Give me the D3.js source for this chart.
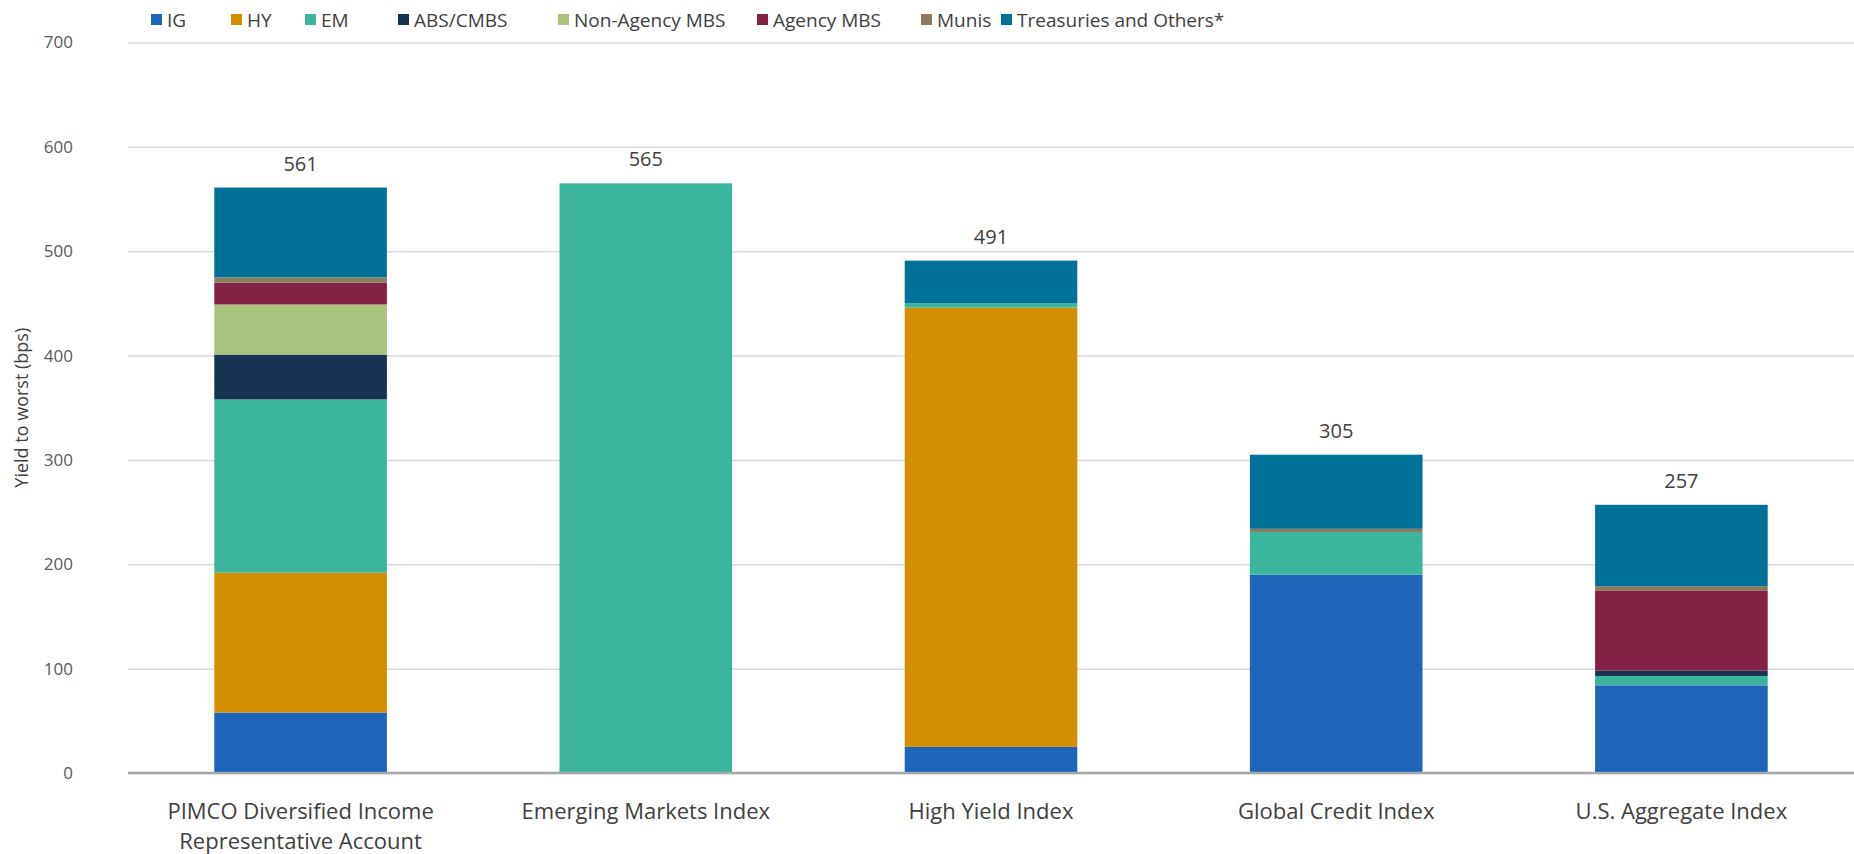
<!DOCTYPE html>
<html><head><meta charset="utf-8">
<script src="https://cdn.jsdelivr.net/npm/d3@7"></script>
<style>
html,body{margin:0;padding:0;background:#fff;}
svg text{font-family:"Open Sans","Noto Sans",sans-serif;}
</style></head>
<body><svg id="chart" width="1854" height="854"></svg>
<script>
const categories = [["PIMCO Diversified Income","Representative Account"],["Emerging Markets Index"],["High Yield Index"],["Global Credit Index"],["U.S. Aggregate Index"]];
const seriesNames = ["IG","HY","EM","ABS/CMBS","Non-Agency MBS","Agency MBS","Munis","Treasuries and Others*"];
const seriesColors = ["#1e65b9","#d38f00","#3bb59b","#18334f","#a8c47f","#832245","#8c7b5c","#00729a"];
const IG         = [58,   0,   25, 190, 84];
const HY         = [134,  0,  421,   0,  0];
const EM         = [166, 565,   4,  41,  9];
const ABS_CMBS   = [43,   0,    0,   0,  5];
const NonAgency  = [48,   0,    0,   0,  0];
const AgencyMBS  = [21,   0,    0,   0, 77];
const Munis      = [5,    0,    0,   3,  4];
const Treasuries = [86,   0,   41,  71, 78];
const totals     = [561, 565, 491, 305, 257];
const yTicks = [0,100,200,300,400,500,600,700];

(function(){
const seriesValues = [IG,HY,EM,ABS_CMBS,NonAgency,AgencyMBS,Munis,Treasuries];
const rows = categories.map((c,i)=>{const r={key:i}; seriesNames.forEach((s,j)=>r[s]=seriesValues[j][i]); return r;});
const stack = d3.stack().keys(seriesNames)(rows);

const svg = d3.select("#chart");
const mL=128, mR=1854, mT=42.5, mB=773;
const x = d3.scaleBand().domain(d3.range(categories.length)).range([mL,mR]).paddingInner(0.5).paddingOuter(0.25);
const y = d3.scaleLinear().domain([0,700]).range([mB,mT]);

const yAxis = d3.axisLeft(y).tickValues(yTicks).tickSize(-(mR-mL)).tickPadding(55);
const gy = svg.append("g").attr("transform",`translate(${mL},0)`).call(yAxis);
gy.select(".domain").remove();
gy.selectAll(".tick line").attr("stroke","#d9d9d9").attr("stroke-width",1.5);
gy.selectAll(".tick text").attr("fill","#595959").attr("font-size",17).attr("font-family","Open Sans, sans-serif");

svg.append("g").selectAll("g").data(stack).join("g").attr("fill",(d,i)=>seriesColors[i])
  .selectAll("rect").data(d=>d).join("rect")
  .attr("x",(d,i)=>x(i)).attr("width",x.bandwidth())
  .attr("y",d=>y(d[1])).attr("height",d=>Math.max(0,y(d[0])-y(d[1])));

const xAxis = d3.axisBottom(x).tickSize(0).tickFormat(()=>"");
const gx = svg.append("g").attr("transform",`translate(0,${mB})`).call(xAxis);
gx.select(".domain").attr("stroke","#a6a6a6").attr("stroke-width",2.5).attr("d",`M${mL},0H${mR}`);
gx.selectAll(".tick").each(function(d){
  const t=d3.select(this).append("text").attr("fill","#404040").attr("font-size",22).attr("text-anchor","middle").attr("y",46);
  categories[d].forEach((line,k)=>t.append("tspan").attr("x",0).attr("dy",k===0?0:30).text(line));
});

svg.append("g").selectAll("text").data(totals).join("text")
  .attr("x",(d,i)=>x(i)+x.bandwidth()/2).attr("y",d=>y(d)-17)
  .attr("text-anchor","middle").attr("font-size",20).attr("fill","#404040").text(d=>d);

svg.append("text").attr("transform",`translate(28,${(mT+mB)/2}) rotate(-90)`)
  .attr("text-anchor","middle").attr("font-size",18).attr("fill","#404040").text("Yield to worst (bps)");

const legX=[151,231,305,398,558,757,921,1001];
const lg = svg.append("g").selectAll("g").data(seriesNames).join("g").attr("transform",(d,i)=>`translate(${legX[i]},20)`);
lg.append("rect").attr("x",0).attr("y",-6).attr("width",11).attr("height",11).attr("fill",(d,i)=>seriesColors[i]);
lg.append("text").attr("x",16).attr("y",6.5).attr("font-size",19).attr("fill","#404040").text(d=>d);
})();
</script></body></html>
